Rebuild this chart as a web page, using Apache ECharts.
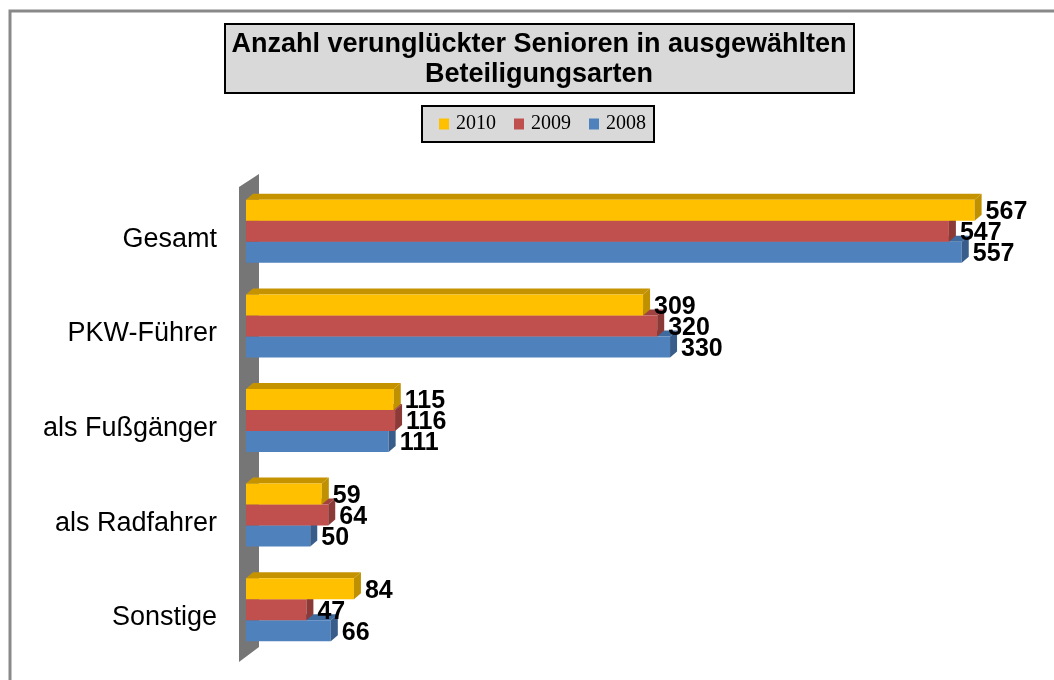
<!DOCTYPE html>
<html>
<head>
<meta charset="utf-8">
<script src="https://cdn.jsdelivr.net/npm/echarts@6/dist/echarts.min.js"></script>
<style>
  html, body { margin: 0; padding: 0; background: #fff; }
  #chart { width: 1054px; height: 680px; }
</style>
</head>
<body>
<div id="chart"></div>
<script>
const categories = ['Gesamt', 'PKW-Führer', 'als Fußgänger', 'als Radfahrer', 'Sonstige'];
const years = ['2010', '2009', '2008'];
const values2010 = [567, 309, 115, 59, 84];
const values2009 = [547, 320, 116, 64, 47];
const values2008 = [557, 330, 111, 50, 66];

const DX = 7, DY = 6; // 3d depth of the bars

// one horizontal 3d bar per category, slot = position inside the group (-1 top, 0, 1 bottom)
function bar3d(front, top, side, slot) {
  return function (params, api) {
    const idx = api.value(0);
    const val = api.value(1);
    const s = api.coord([0, idx]);
    const e = api.coord([val, idx]);
    const h = api.size([0, 1])[1] * 0.222;
    const yc = s[1] + slot * h;
    const yt = yc - h / 2, yb = yc + h / 2;
    const x0 = s[0], x1 = e[0];
    return {
      type: 'group',
      children: [
        { type: 'polygon', shape: { points: [[x0, yt], [x0 + DX, yt - DY], [x1 + DX, yt - DY], [x1, yt]] },
          style: { fill: top } },
        { type: 'rect', shape: { x: x0, y: yt, width: x1 - x0, height: h }, style: { fill: front } },
        { type: 'polygon', shape: { points: [[x1, yt], [x1 + DX, yt - DY], [x1 + DX, yb - DY], [x1, yb]] },
          style: { fill: side } },
        { type: 'text', z2: 100,
          style: { text: String(val), x: x1 + DX + 4, y: yc + 2, verticalAlign: 'middle',
                   font: 'bold 25px "Liberation Sans", Arial, sans-serif', fill: '#000' } }
      ]
    };
  };
}

// grey axis wall on the left of the plot
function wall(params) {
  const c = params.coordSys;
  const x = c.x, t = c.y, b = c.y + c.height;
  return {
    type: 'polygon',
    shape: { points: [[x - 7, t + 3], [x + 13, t - 10], [x + 13, b - 10], [x - 7, b + 5]] },
    style: { fill: '#767676' }
  };
}

const toData = arr => arr.map((v, i) => [i, v]);

const chart = echarts.init(document.getElementById('chart'));
chart.setOption({
  animation: false,
  graphic: [
    { type: 'rect', shape: { x: 10, y: 11, width: 1100, height: 720 },
      style: { fill: 'none', stroke: '#898989', lineWidth: 3 } },
    { type: 'group', left: 224, top: 23, children: [
      { type: 'rect', shape: { x: 0, y: 0, width: 629, height: 69 },
        style: { fill: '#d9d9d9', stroke: '#000', lineWidth: 2 } },
      { type: 'text', style: { text: 'Anzahl verunglückter Senioren in ausgewählten\nBeteiligungsarten',
        x: 314, y: 36, align: 'center', verticalAlign: 'middle', lineHeight: 30,
        font: 'bold 27px "Liberation Sans", Arial, sans-serif', fill: '#000' } }
    ] }
  ],
  legend: {
    data: years,
    left: 422, top: 106,
    padding: [8, 8, 8, 17],
    itemGap: 18,
    itemWidth: 10, itemHeight: 11,
    icon: 'rect',
    backgroundColor: '#d9d9d9',
    borderColor: '#000', borderWidth: 2, borderRadius: 0,
    textStyle: { fontFamily: '"Liberation Serif", "Times New Roman", serif', fontSize: 20, color: '#000',
                 padding: [0, 0, 0, 2] }
  },
  grid: { left: 246, top: 184, width: 771, height: 473 },
  xAxis: { type: 'value', min: 0, max: 600, show: false },
  yAxis: {
    type: 'category', data: categories, inverse: true,
    axisLine: { show: false }, axisTick: { show: false },
    axisLabel: { fontSize: 27, color: '#000', margin: 29, verticalAlign: 'top', lineHeight: 16,
                 fontFamily: '"Liberation Sans", Arial, sans-serif' }
  },
  series: [
    { type: 'custom', name: 'wall', z: 1, data: [[0, 0]], encode: { x: 1, y: 0 }, renderItem: wall },
    { type: 'custom', name: '2008', z: 2, data: toData(values2008), encode: { x: 1, y: 0 },
      itemStyle: { color: '#4F81BD' }, renderItem: bar3d('#4F81BD', '#3E6A9E', '#385D8A', 1) },
    { type: 'custom', name: '2009', z: 2, data: toData(values2009), encode: { x: 1, y: 0 },
      itemStyle: { color: '#C0504D' }, renderItem: bar3d('#C0504D', '#A04240', '#8C3A38', 0) },
    { type: 'custom', name: '2010', z: 2, data: toData(values2010), encode: { x: 1, y: 0 },
      itemStyle: { color: '#FFC000' }, renderItem: bar3d('#FFC000', '#C69300', '#BF9000', -1) }
  ]
});
</script>
</body>
</html>
